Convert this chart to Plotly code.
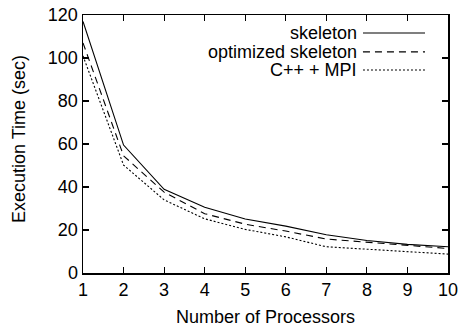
import plotly.graph_objects as go

processors = [1, 2, 3, 4, 5, 6, 7, 8, 9, 10]
skeleton = [117, 59.5, 38.9, 30.6, 25.1, 21.8, 17.8, 15.1, 13.3, 12.2]
optimized_skeleton = [107, 54.5, 37.6, 27.6, 22.7, 19.5, 15.8, 14.3, 12.8, 11.4]
cpp_mpi = [101, 50.2, 34.0, 25.2, 20.3, 16.8, 12.2, 11.0, 9.9, 8.8]
y_ticks = [0, 20, 40, 60, 80, 100, 120]

series = [
    ("skeleton", skeleton, "solid"),
    ("optimized skeleton", optimized_skeleton, "7px,5px"),
    ("C++ + MPI", cpp_mpi, "2px,2px"),
]

FONT = "Liberation Sans, Arial, Helvetica, sans-serif"
FS = 18

fig = go.Figure()
for name, vals, dash in series:
    fig.add_trace(go.Scatter(
        x=processors, y=vals, mode="lines", name=name,
        line=dict(color="black", width=1.1, dash=dash),
        showlegend=False,
    ))

# manual gnuplot-style legend (text right, sample line to the right)
leg_y = [0.930, 0.857, 0.787]
for (name, vals, dash), yy in zip(series, leg_y):
    fig.add_annotation(xref="paper", yref="paper", x=0.755, y=yy,
                       text=name, showarrow=False, xanchor="right", yanchor="middle",
                       font=dict(family=FONT, size=FS, color="black"))
    fig.add_shape(type="line", xref="paper", yref="paper",
                  x0=0.767, x1=0.937, y0=yy, y1=yy,
                  line=dict(color="black", width=1.1, dash=dash))

# axis titles
fig.add_annotation(xref="paper", yref="paper", x=0.5, y=-0.172,
                   text="Number of Processors", showarrow=False,
                   xanchor="center", yanchor="middle",
                   font=dict(family=FONT, size=FS, color="black"))
fig.add_annotation(xref="paper", yref="paper", x=-0.175, y=0.52,
                   text="Execution Time (sec)", showarrow=False, textangle=-90,
                   xanchor="center", yanchor="middle",
                   font=dict(family=FONT, size=FS, color="black"))

axis_common = dict(
    showgrid=False, zeroline=False, showline=True, linecolor="black", linewidth=1.5,
    mirror="ticks", ticks="inside", ticklen=6, tickwidth=1.2, tickcolor="black",
    tickfont=dict(family=FONT, size=FS, color="black"), automargin=False,
    ticklabeloverflow="allow",
)

# figure is slightly wider than the window so the last tick label is not clipped
fig.update_layout(
    width=470, height=326,
    margin=dict(l=83, r=22, t=15, b=53),
    paper_bgcolor="white", plot_bgcolor="white",
    font=dict(family=FONT, size=FS, color="black"),
    xaxis=dict(range=[1, 10], tickmode="array", tickvals=processors, **axis_common),
    yaxis=dict(range=[0, 120], tickmode="array", tickvals=y_ticks, **axis_common),
)

fig.write_html(
    "out.html",
    config={"displayModeBar": False, "staticPlot": True},
    post_script="document.body.style.margin='0';document.body.style.overflow='hidden';",
)
